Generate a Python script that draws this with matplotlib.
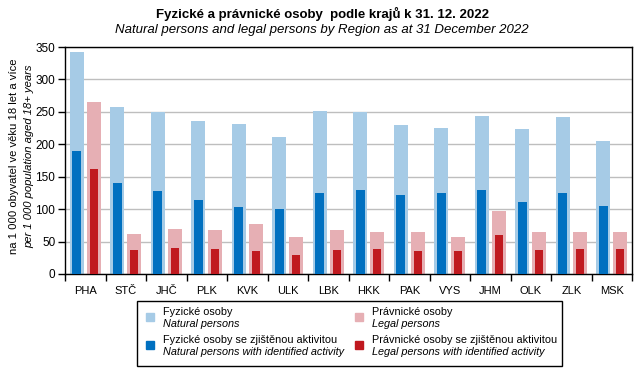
import numpy as np
import matplotlib
matplotlib.use("Agg")
import matplotlib.pyplot as plt
from matplotlib.patches import Rectangle

plt.rcParams['font.family'] = ['Liberation Sans', 'DejaVu Sans']

# data
regions = ['PHA', 'STČ', 'JHČ', 'PLK', 'KVK', 'ULK', 'LBK',
           'HKK', 'PAK', 'VYS', 'JHM', 'OLK', 'ZLK', 'MSK']
natural = [343, 257, 250, 236, 231, 211, 251, 250, 230, 225, 243, 224, 242, 205]
natural_active = [190, 140, 128, 114, 104, 100, 125, 130, 122, 125, 130, 111, 125, 105]
legal = [265, 62, 70, 68, 77, 57, 68, 64, 64, 57, 97, 64, 65, 65]
legal_active = [162, 37, 40, 39, 36, 30, 37, 39, 36, 36, 60, 37, 39, 39]

c_nat = '#A6CBE6'
c_nat_act = '#0070C0'
c_leg = '#E6AFB4'
c_leg_act = '#C0191F'

W, H = 643, 375
fig = plt.figure(figsize=(W / 100, H / 100), dpi=100)


def fx(x):
    return x / W


def fy(y):
    return 1 - y / H


left, right, top, bottom = 65, 632, 47, 274
ax = fig.add_axes([fx(left), fy(bottom), fx(right - left), (bottom - top) / H])

x = np.arange(len(regions))
off = 0.21
ax.bar(x - off, natural, width=0.35, color=c_nat, zorder=2)
ax.bar(x - off, natural_active, width=0.23, color=c_nat_act, zorder=3)
ax.bar(x + off, legal, width=0.35, color=c_leg, zorder=2)
ax.bar(x + off, legal_active, width=0.20, color=c_leg_act, zorder=3)

ax.set_xlim(-0.5, len(regions) - 0.5)
ax.set_ylim(0, 350)
ax.set_yticks(np.arange(0, 351, 50))
ax.yaxis.grid(True, color='#BEBEBE', linewidth=1.0, zorder=0)
ax.set_axisbelow(True)

ax.set_xticks(np.arange(-0.5, len(regions), 1))
ax.set_xticklabels([])
ax.set_xticks(x, minor=True)
ax.set_xticklabels(regions, minor=True)
ax.tick_params(axis='x', which='major', length=5, width=1, direction='out')
ax.tick_params(axis='x', which='minor', length=0, pad=9, labelsize=8)
ax.tick_params(axis='y', length=5, width=1, direction='out', labelsize=8.5, pad=2)
for s in ax.spines.values():
    s.set_linewidth(1.0)
    s.set_color('black')

# y axis label, two lines
fig.text(fx(14), fy(156), 'na 1 000 obyvatel ve věku 18 let a více', rotation=90,
         ha='center', va='center', fontsize=8.1)
fig.text(fx(29.5), fy(156), 'per 1 000 population aged 18+ years', rotation=90,
         ha='center', va='center', fontsize=8.1, style='italic')

# titles
fig.text(fx(322), fy(14), 'Fyzické a právnické osoby  podle krajů k 31. 12. 2022',
         ha='center', va='center', fontsize=9.5, fontweight='bold')
fig.text(fx(322), fy(29.5), 'Natural persons and legal persons by Region as at 31 December 2022',
         ha='center', va='center', fontsize=9.5, style='italic')

# legend drawn by hand
fig.add_artist(Rectangle((fx(137), fy(366)), fx(562 - 137), (366 - 301) / H,
                         transform=fig.transFigure, fill=False, edgecolor='black', linewidth=1))
entries = [
    (146, 317, c_nat, 'Fyzické osoby', 'Natural persons'),
    (355, 317, c_leg, 'Právnické osoby', 'Legal persons'),
    (146, 345, c_nat_act, 'Fyzické osoby se zjištěnou aktivitou', 'Natural persons with identified activity'),
    (355, 345, c_leg_act, 'Právnické osoby se zjištěnou aktivitou', 'Legal persons with identified activity'),
]
for sx, sy, col, cz, en in entries:
    fig.add_artist(Rectangle((fx(sx), fy(sy + 4)), fx(8), 8 / H,
                             transform=fig.transFigure, color=col))
    fig.text(fx(sx + 17), fy(sy - 5), cz, ha='left', va='center', fontsize=7.8)
    fig.text(fx(sx + 17), fy(sy + 7), en, ha='left', va='center', fontsize=7.8, style='italic')

fig.savefig('out.png', dpi=100)
